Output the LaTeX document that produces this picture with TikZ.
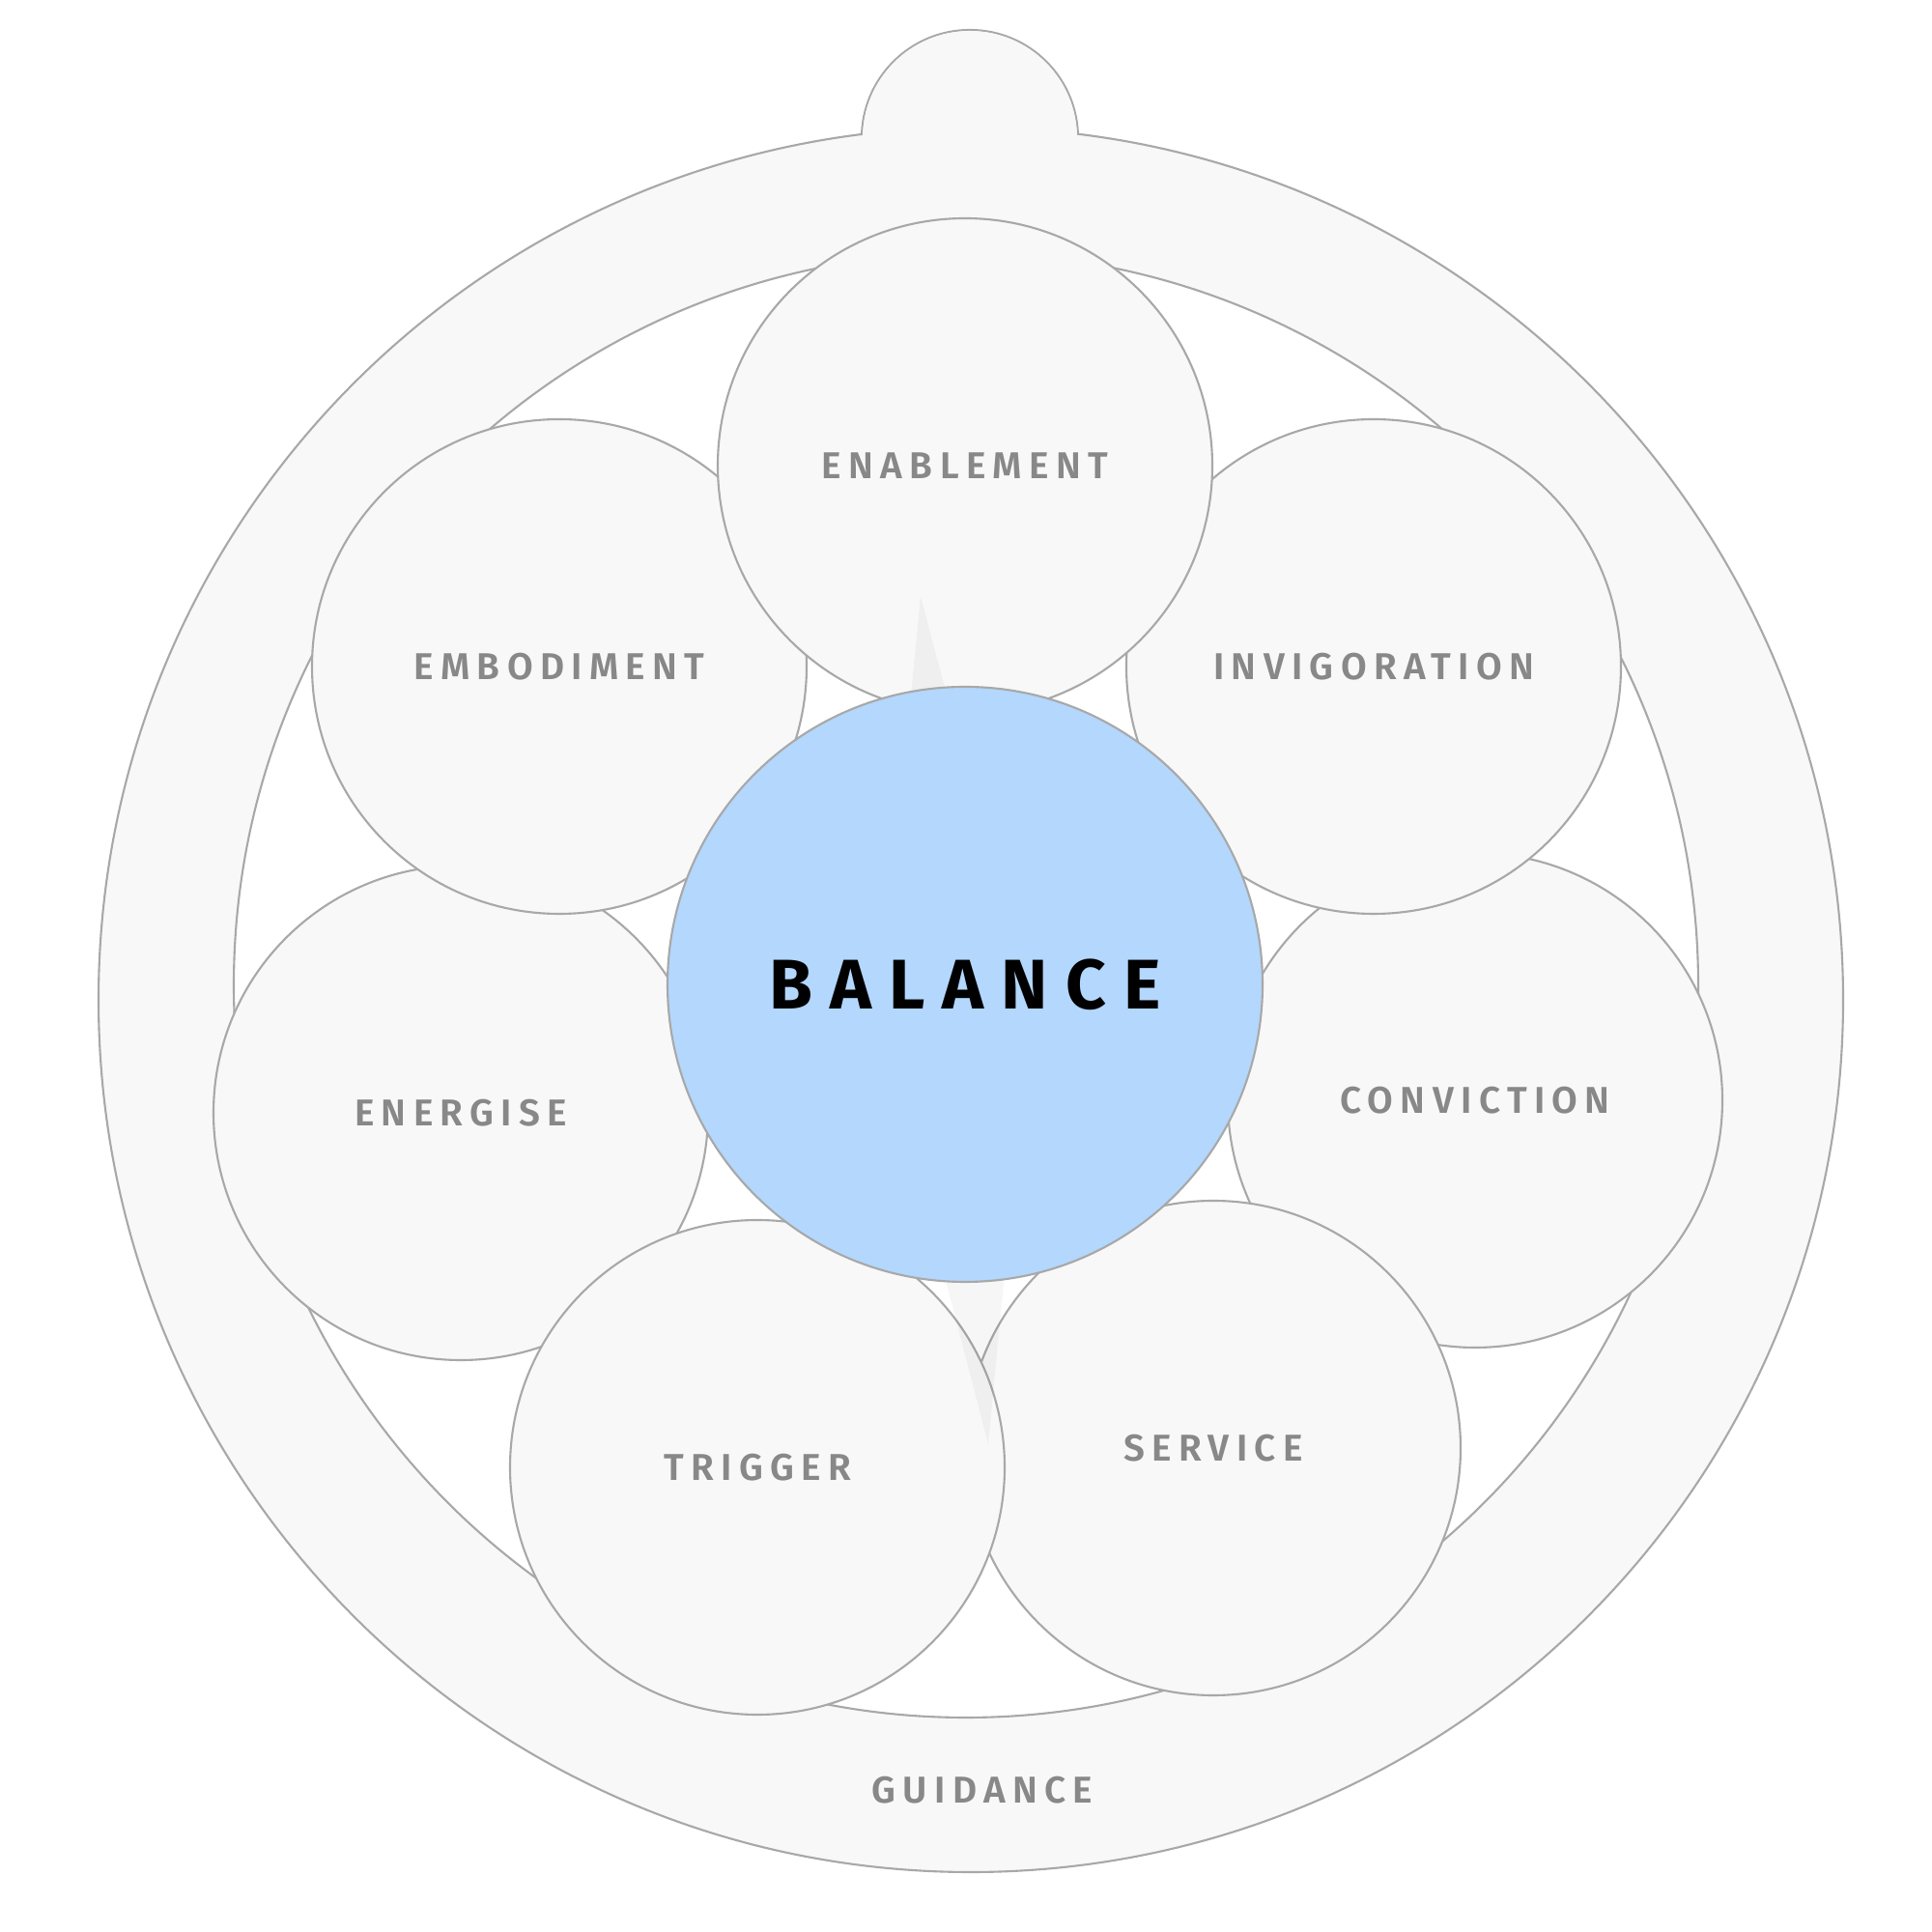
\documentclass[tikz,border=0pt]{standalone}
\usepackage{fontspec}
\setmainfont{Fira Sans}
\newfontfamily\labelfont[LetterSpace=19, BoldFont={Fira Sans SemiBold}]{Fira Sans}
\newfontfamily\centrefont[LetterSpace=25]{Fira Sans}
\usepackage{xcolor}
\usepackage{tikz}
\usetikzlibrary{positioning}

\definecolor{petalfill}{HTML}{F8F8F8}
\definecolor{petalline}{HTML}{A8A8A8}
\definecolor{labelgray}{HTML}{888888}
\definecolor{balanceblue}{HTML}{B3D7FD}

\begin{document}
\begin{tikzpicture}[
        ringline/.style={draw=petalline, fill=petalfill, line width=0.6pt},
        petal/.style={circle, draw=petalline, fill=petalfill, line width=0.6pt,
            minimum size=5.12cm, inner sep=0pt, text=labelgray,
            font={\labelfont\bfseries\fontsize{11pt}{13pt}\selectfont}},
        hub/.style={circle, draw=petalline, fill=balanceblue, line width=0.6pt,
            minimum size=6.16cm, inner sep=0pt, text=black,
            font={\centrefont\bfseries\fontsize{20.7pt}{24pt}\selectfont}}
    ]

        \useasboundingbox (0,0) rectangle (20,20);

        % Guidance ring with the knob on top
        \coordinate (ringcentre) at (10.05,9.65);
        \coordinate (knob) at (10.04,18.57);
        \draw[ringline] (knob) circle (1.12);
        \draw[ringline] (ringcentre) circle (9.03);
        \fill[petalfill] (knob) circle (1.11);
        \draw[ringline, fill=white] (10.0,9.80) circle (7.58);

        \node[text=labelgray, font={\labelfont\bfseries\fontsize{11pt}{13pt}\selectfont}]
            (guidance) at (10.17,1.47) {GUIDANCE};

        % Petals (back to front)
        \node[petal] (energise) at (4.77,8.48) {ENERGISE};
        \node[petal] (conviction) at (15.27,8.61) {CONVICTION};
        \node[petal] (service) at (12.56,5.01) {SERVICE};
        \node[petal] (embodiment) at (5.79,13.10) {EMBODIMENT};
        \node[petal] (invigoration) at (14.22,13.10) {INVIGORATION};
        \node[petal] (trigger) at (7.84,4.81) {TRIGGER};
        \node[petal] (enablement) at (9.99,15.18) {ENABLEMENT};

        % Needle behind the centre
        \fill[black, opacity=0.035] (9.53,13.83) -- (10.66,9.53) -- (10.23,5.05) -- (9.10,9.40) -- cycle;

        % Centre
        \node[hub] (balance) at (9.99,9.81) {BALANCE};

    \end{tikzpicture}
\end{document}
